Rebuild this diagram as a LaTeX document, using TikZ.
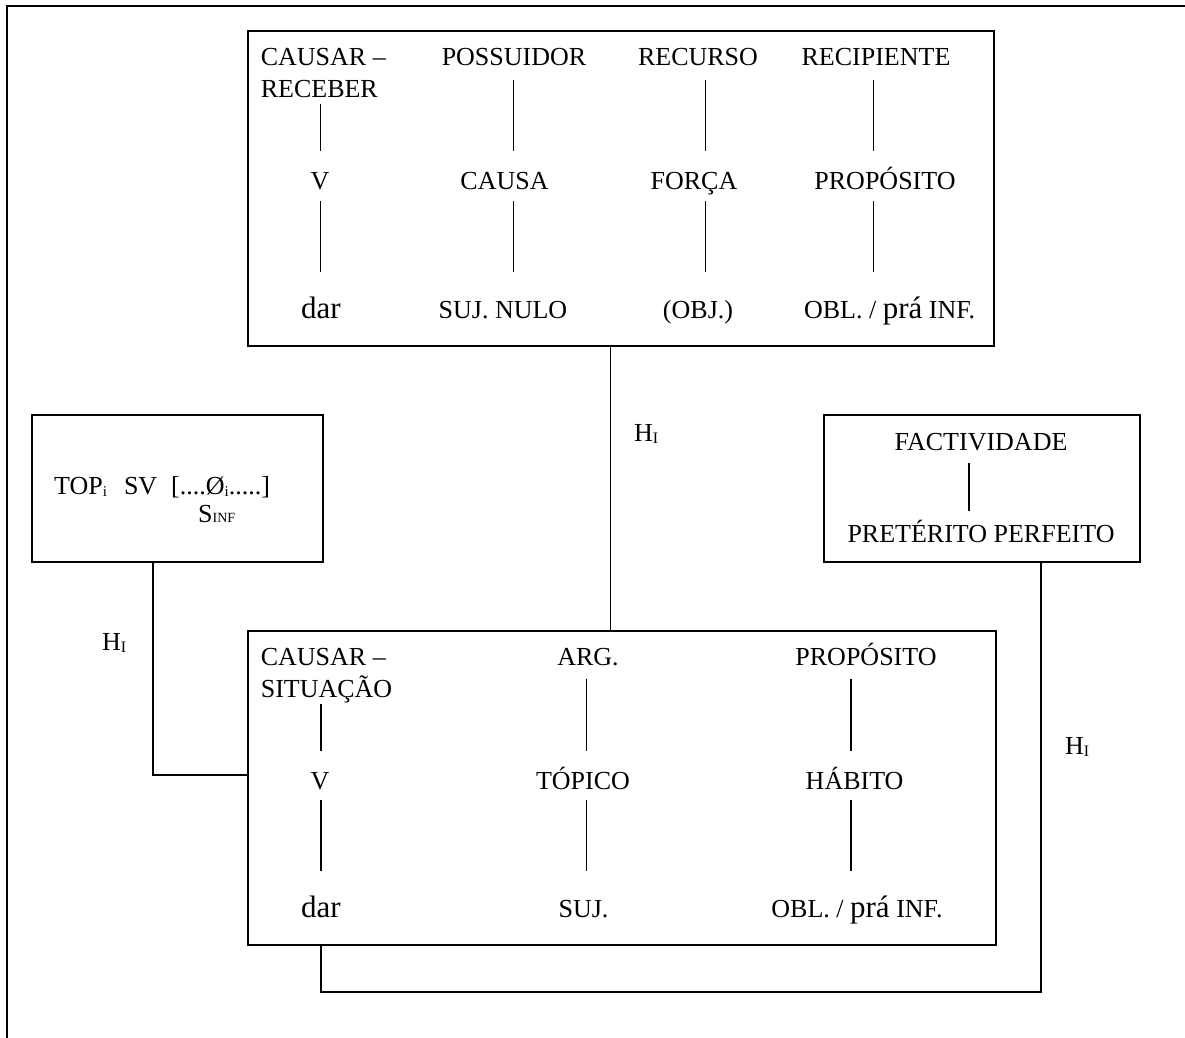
\documentclass[tikz,border=0pt]{standalone}
\usepackage{fontspec}
\setmainfont{Liberation Serif}
\newcommand\lowsub[2][15]{\raisebox{-2.5pt}{\fontsize{#1}{#1}\selectfont #2}}
\newcommand\bigw[1]{{\fontsize{31}{34}\selectfont #1}}
\begin{document}
\begin{tikzpicture}[x=1pt,y=-1pt,
  box/.style={draw, line width=1.8pt, anchor=north west, inner sep=0pt},
  txt/.style={font=\fontsize{26}{30}\selectfont, inner sep=0pt, anchor=base},
  txtl/.style={txt, anchor=base west},
  conn/.style={line width=1.4pt},
  rulel/.style={line width=1.2pt},
  framel/.style={line width=1.7pt}]
\useasboundingbox (0,0) rectangle (1185,1037);
% outer frame
\draw[framel] (6.7,1040) -- (6.7,5.7) -- (1190,5.7);

% boxes
\node[box, minimum width=746pt, minimum height=315pt] (topbox) at (247,30) {};
\node[box, minimum width=291pt, minimum height=147pt] (leftbox) at (30.7,414) {};
\node[box, minimum width=316pt, minimum height=147pt] (rightbox) at (823,414) {};
\node[box, minimum width=748pt, minimum height=314pt] (botbox) at (247,630) {};

% ---- top box texts
\node[txtl] (t11a) at (260.6,65) {CAUSAR –};
\node[txtl] (t11b) at (260.6,97) {RECEBER};
\node[txt] (t12) at (514,65) {POSSUIDOR};
\node[txt] (t13) at (698,65) {RECURSO};
\node[txt] (t14) at (876,65) {RECIPIENTE};
\node[txt] (t21) at (320,189) {V};
\node[txt] (t22) at (504.5,189) {CAUSA};
\node[txt] (t23) at (694,189) {FORÇA};
\node[txt] (t24) at (885,189) {PROPÓSITO};
\node[txt] (t31) at (321,318) {\bigw{dar}};
\node[txt] (t32) at (503,318) {SUJ. NULO};
\node[txt] (t33) at (698,318) {(OBJ.)};
\node[txt] (t34) at (889.6,318) {OBL. / \bigw{prá} INF.};
% top box rules
\draw[rulel] (320.7,104) -- (320.7,151);
\draw[rulel] (320.7,200.5) -- (320.7,271.5);
\foreach \xx in {513.2,705.8,873.6}{
  \draw[rulel] (\xx,79.5) -- (\xx,151);
  \draw[rulel] (\xx,200.5) -- (\xx,271.5);
}

% ---- bottom box texts
\node[txtl] (b11a) at (260.6,665) {CAUSAR –};
\node[txtl] (b11b) at (260.6,697) {SITUAÇÃO};
\node[txt] (b12) at (588,665) {ARG.};
\node[txt] (b13) at (866,665) {PROPÓSITO};
\node[txt] (b21) at (320,789) {V};
\node[txt] (b22) at (583,789) {TÓPICO};
\node[txt] (b23) at (854.6,789) {HÁBITO};
\node[txt] (b31) at (321,917) {\bigw{dar}};
\node[txt] (b32) at (583.5,917) {SUJ.};
\node[txt] (b33) at (857,917) {OBL. / \bigw{prá} INF.};
% bottom box rules
\draw[rulel] (321,704) -- (321,751);
\draw[rulel] (321,800) -- (321,871);
\foreach \xx in {586.4,851}{
  \draw[rulel] (\xx,679) -- (\xx,751);
  \draw[rulel] (\xx,800) -- (\xx,871);
}

% ---- left box
\node[txtl] (l1) at (54,494) {TOP\lowsub{i}\hspace{17pt}SV\hspace{14pt}[....Ø\lowsub{i}.....]};
\node[txtl] (l2) at (198,522) {S{\fontsize{14}{14}\selectfont INF}};

% ---- right box
\node[txt] (r1) at (981,450) {FACTIVIDADE};
\node[txt] (r2) at (981,542) {PRETÉRITO PERFEITO};
\draw[rulel] (969,463) -- (969,511);

% ---- connectors
\coordinate (mx) at (610.5,0);
\draw[conn] (topbox.south -| mx) -- (botbox.north -| mx);
\node[txtl] (h1) at (634,441) {H\lowsub[16]{I}};

\coordinate (lx) at (153,775);
\draw[conn] (leftbox.south -| lx) -- (lx) -- (botbox.west |- lx);
\node[txtl] (h2) at (102,650) {H\lowsub[16]{I}};

\coordinate (rx) at (1041,992);
\coordinate (bx) at (321,992);
\draw[conn] (rightbox.south -| rx) -- (rx) -- (bx) -- (botbox.south -| bx);
\node[txtl] (h3) at (1065,754) {H\lowsub[16]{I}};
\end{tikzpicture}
\end{document}
